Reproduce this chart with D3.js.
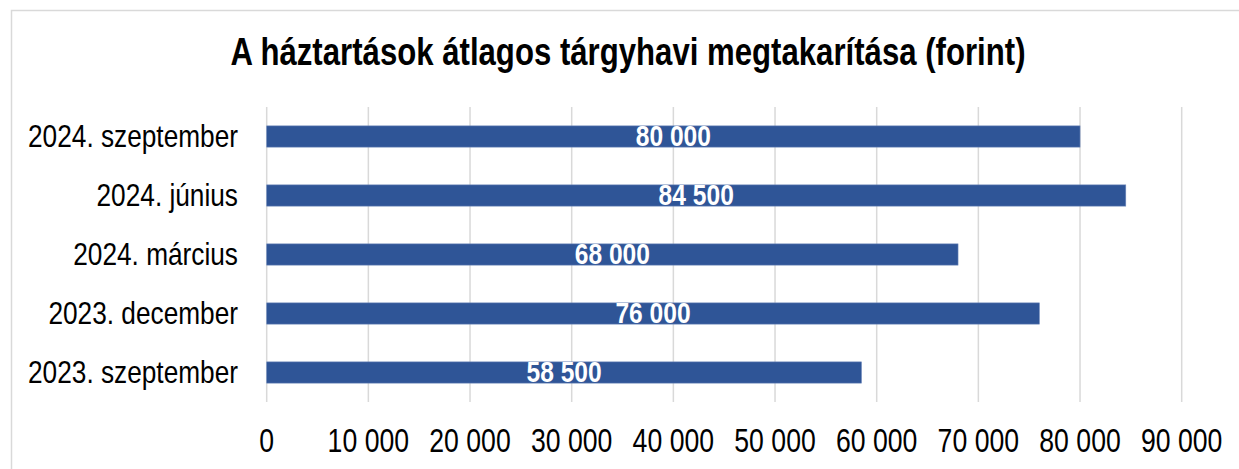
<!DOCTYPE html>
<html>
<head>
<meta charset="utf-8">
<script src="https://cdn.jsdelivr.net/npm/d3@7"></script>
<style>
	body { margin: 0; background: #fff; }
	text { font-family: "Liberation Sans Narrow", "Arial Narrow", "Liberation Sans", Arial, sans-serif; }
</style>
</head>
<body>
<div id="chartContainer"></div>
<script>
const title = "A háztartások átlagos tárgyhavi megtakarítása (forint)";
const categories = ["2024. szeptember", "2024. június", "2024. március", "2023. december", "2023. szeptember"];
const values = [80000, 84500, 68000, 76000, 58500];
const ticks = [0, 10000, 20000, 30000, 40000, 50000, 60000, 70000, 80000, 90000];

const width = 1239;
const height = 469;

let svg = d3
			.select("#chartContainer")
			.append("svg")
			.attr("width", width)
			.attr("height", height);

// chart frame
svg.append("rect")
	.attr("x", 11.5)
	.attr("y", 10.5)
	.attr("width", width + 10)
	.attr("height", height + 10)
	.attr("fill", "none")
	.attr("stroke", "#d9d9d9")
	.attr("stroke-width", 1.5);

let xScale = d3.scaleLinear().domain([0, 90000]).range([266.7, 1181.7]);
let yScale = d3.scaleBand().domain(categories).range([107, 402]).paddingInner(0.64).paddingOuter(0.32);

let fmt = (v) => d3.format(",")(v).replace(/,/g, " ");

// if the narrow face is missing, squeeze the regular one
function narrow(sel) {
	sel.each(function () {
		let el = d3.select(this);
		let w1 = this.getComputedTextLength();
		el.style("font-family", '"Liberation Sans", Arial, sans-serif');
		let w2 = this.getComputedTextLength();
		el.style("font-family", null);
		if (w1 / w2 > 0.9) {
			let x = +el.attr("x"), y = +el.attr("y");
			el.style("font-family", '"Liberation Sans", Arial, sans-serif')
				.attr("transform", `translate(${x},${y}) scale(0.82,1) translate(${-x},${-y})`);
		}
	});
}

svg.append("g")
	.selectAll("line")
	.data(ticks)
	.join("line")
	.attr("x1", (d) => xScale(d))
	.attr("x2", (d) => xScale(d))
	.attr("y1", 107)
	.attr("y2", 402)
	.attr("stroke", "#d9d9d9")
	.attr("stroke-width", 1.5);

svg.append("g")
	.selectAll("text")
	.data(ticks)
	.join("text")
	.attr("x", (d) => xScale(d))
	.attr("y", 452)
	.attr("text-anchor", "middle")
	.attr("font-size", 32.5)
	.attr("fill", "#000")
	.text((d) => fmt(d))
	.call(narrow);

svg.append("g")
	.selectAll("text")
	.data(categories)
	.join("text")
	.attr("x", 238)
	.attr("y", (d) => yScale(d) + yScale.bandwidth() / 2 + 10.5)
	.attr("text-anchor", "end")
	.attr("font-size", 32)
	.attr("fill", "#000")
	.text((d) => d)
	.call(narrow);

svg.append("g")
	.selectAll("rect")
	.data(values)
	.join("rect")
	.attr("x", xScale(0))
	.attr("y", (d, i) => yScale(categories[i]))
	.attr("width", (d) => xScale(d) - xScale(0))
	.attr("height", yScale.bandwidth())
	.attr("fill", "#2f5597")
	.attr("stroke", "#6d88bb")
	.attr("stroke-width", 0.6);

svg.append("g")
	.selectAll("text")
	.data(values)
	.join("text")
	.attr("x", (d) => (xScale(0) + xScale(d)) / 2)
	.attr("y", (d, i) => yScale(categories[i]) + yScale.bandwidth() / 2 + 10)
	.attr("text-anchor", "middle")
	.attr("font-size", 30)
	.attr("font-weight", "bold")
	.attr("fill", "#fff")
	.text((d) => fmt(d))
	.call(narrow);

svg.append("text")
	.attr("x", 628)
	.attr("y", 65)
	.attr("text-anchor", "middle")
	.attr("font-size", 38)
	.attr("font-weight", "bold")
	.attr("fill", "#000")
	.text(title)
	.call(narrow);
</script>
</body>
</html>
